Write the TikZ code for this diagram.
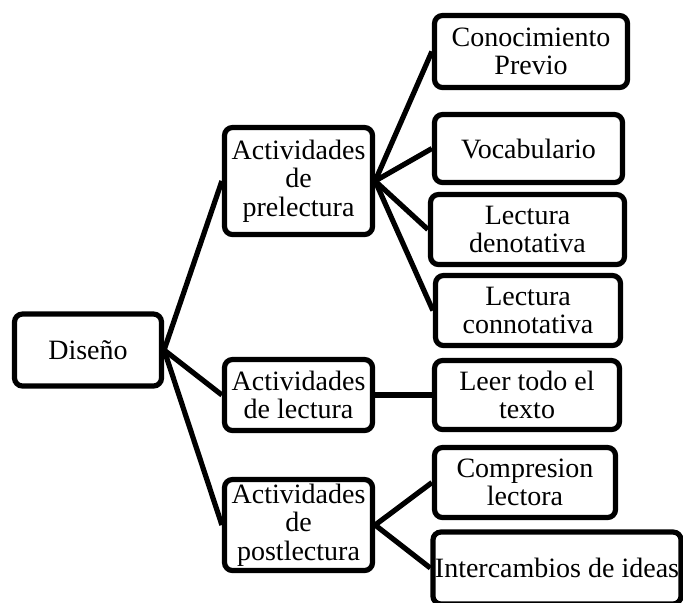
\documentclass[tikz,border=0pt]{standalone}
\usepackage{fontspec}
\setmainfont{Liberation Serif}
\usepackage{tikz}

\begin{document}
\begin{tikzpicture}[x=0.5pt,y=-0.5pt,
    caja/.style={draw,line width=2.6pt,rounded corners=4pt,align=center,inner sep=1pt,
      font=\fontsize{14}{14.3}\selectfont},
    linea/.style={line width=2.6pt}]
  \useasboundingbox (0,0) rectangle (683,602);
  \fill[white] (0,0) rectangle (683,602);
  \clip (0,0) rectangle (683,602);
  % nodos
  \node[caja,minimum width=73.5pt,minimum height=36pt] (disenio) at (88,350) {Diseño};
  \node[caja,minimum width=74pt,minimum height=53.5pt] (prelec) at (298.5,181) {Actividades\\de\\prelectura};
  \node[caja,minimum width=74pt,minimum height=35.5pt] (lec) at (298.5,395) {Actividades\\de lectura};
  \node[caja,minimum width=74pt,minimum height=45.5pt] (postlec) at (298.5,525) {Actividades\\de\\postlectura};
  \node[caja,minimum width=96.5pt,minimum height=36pt] (conoc) at (531,51.5) {Conocimiento\\Previo};
  \node[caja,minimum width=94pt,minimum height=34pt] (vocab) at (528.5,148.5) {Vocabulario};
  \node[caja,minimum width=97pt,minimum height=35pt] (denot) at (527.5,229.5) {Lectura\\denotativa};
  \node[caja,minimum width=92.5pt,minimum height=35pt] (connot) at (528,310.5) {Lectura\\connotativa};
  \node[caja,minimum width=92.5pt,minimum height=34.5pt] (leer) at (527,395) {Leer todo el\\texto};
  \node[caja,minimum width=90.5pt,minimum height=35pt] (compr) at (525,482.5) {Compresion\\lectora};
  \node[caja,minimum width=122.5pt,minimum height=36pt] (inter) at (557,568) {Intercambios de ideas};
  % conectores
  \draw[linea] (disenio.east) -- (prelec.west);
  \draw[linea] (disenio.east) -- (lec.west);
  \draw[linea] (disenio.east) -- (postlec.west);
  \foreach \hijo in {conoc,vocab,denot,connot}
    \draw[linea] (prelec.east) -- (\hijo.west);
  \draw[linea] (lec.east) -- (leer.west);
  \draw[linea] (postlec.east) -- (compr.west);
  \draw[linea] (postlec.east) -- (inter.west);
\end{tikzpicture}
\end{document}
